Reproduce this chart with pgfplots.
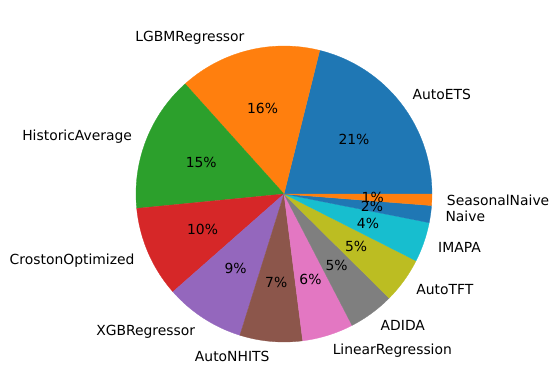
\documentclass[border=0pt]{standalone}
\usepackage{pgfplots}
\pgfplotsset{compat=1.18}
\usepackage{fontspec}
\setmainfont{DejaVu Sans}
\definecolor{c0}{HTML}{1F77B4}
\definecolor{c1}{HTML}{FF7F0E}
\definecolor{c2}{HTML}{2CA02C}
\definecolor{c3}{HTML}{D62728}
\definecolor{c4}{HTML}{9467BD}
\definecolor{c5}{HTML}{8C564B}
\definecolor{c6}{HTML}{E377C2}
\definecolor{c7}{HTML}{7F7F7F}
\definecolor{c8}{HTML}{BCBD22}
\definecolor{c9}{HTML}{17BECF}
\newcommand\total{161}
% #1 cumulative start count, #2 count, #3 colour, #4 label anchor, #5 label, #6 percent text
\newcommand\pieslice[6]{%
  \pgfmathsetmacro\sa{#1/\total*360}%
  \pgfmathsetmacro\ea{(#1+#2)/\total*360}%
  \pgfmathsetmacro\ma{(\sa+\ea)/2}%
  \pgfmathsetmacro\lx{1.1*cos(\ma)}\pgfmathsetmacro\ly{1.1*sin(\ma)}%
  \pgfmathsetmacro\px{0.6*cos(\ma)}\pgfmathsetmacro\py{0.6*sin(\ma)}%
  \edef\doslice{%
    \noexpand\addplot[fill=#3, draw=#3, line width=0.2pt, domain=\sa:\ea, samples=90] ({cos(x)},{sin(x)}) -- (axis cs:0,0) -- cycle;
    \noexpand\node[anchor=#4, inner sep=0pt] at (axis cs:\lx,\ly) {#5};
    \noexpand\node[inner sep=0pt] at (axis cs:\px,\py) {#6};
  }%
  \doslice
}
\begin{document}
\begin{tikzpicture}[every node/.style={font=\fontsize{10}{12}\selectfont, text height=7.6pt, text depth=2.36pt, yshift=-1.2pt}]
\begin{axis}[scale only axis, width=401.76pt, height=280.08pt,
  xmin=-1.9189, xmax=1.8514, ymin=-1.3176, ymax=1.3108,
  hide axis, clip=false]
\pieslice{0}{34}{c0}{west}{AutoETS}{21\%}
\pieslice{34}{25}{c1}{east}{LGBMRegressor}{16\%}
\pieslice{59}{24}{c2}{east}{HistoricAverage}{15\%}
\pieslice{83}{16}{c3}{east}{CrostonOptimized}{10\%}
\pieslice{99}{14}{c4}{east}{XGBRegressor}{9\%}
\pieslice{113}{11}{c5}{east}{AutoNHITS}{7\%}
\pieslice{124}{9}{c6}{west}{LinearRegression}{6\%}
\pieslice{133}{8}{c7}{west}{ADIDA}{5\%}
\pieslice{141}{8}{c8}{west}{AutoTFT}{5\%}
\pieslice{149}{7}{c9}{west}{IMAPA}{4\%}
\pieslice{156}{3}{c0}{west}{Naive}{2\%}
\pieslice{159}{2}{c1}{west}{SeasonalNaive}{1\%}
\end{axis}
\path (current axis.south west) rectangle (current axis.north east);
\end{tikzpicture}
\end{document}
